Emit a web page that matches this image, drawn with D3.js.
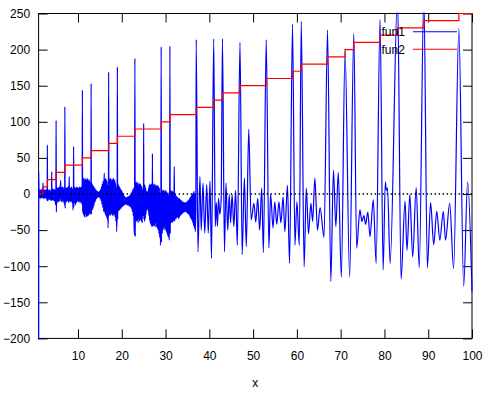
<!DOCTYPE html>
<html>
<head>
<meta charset="utf-8">
<script src="https://cdn.jsdelivr.net/npm/d3@7"></script>
<style>
  body { margin: 0; background: #fff; }
  svg { display: block; font-family: "Liberation Sans", Arial, sans-serif; }
  .tick text { font-size: 12px; fill: #000; }
</style>
</head>
<body>
<svg id="chart" width="491" height="398"></svg>
<script>
// tick values
var xTicks = [10, 20, 30, 40, 50, 60, 70, 80, 90, 100];
var yTicks = [-200, -150, -100, -50, 0, 50, 100, 150, 200, 250];

// fun2: step values (x where it steps, value after the step)
var fun2X = [1, 2, 3, 5, 7, 11, 13, 17, 19, 23, 29, 31, 37, 41, 43, 47, 53, 59, 61, 67, 71, 73, 79, 83, 89, 97, 100];
var fun2Y = [0, 10, 20, 30, 40, 50, 60, 70, 80, 90, 100, 110, 120, 130, 140, 150, 160, 170, 180, 190, 200, 210, 220, 230, 240, 250, 250];

// fun1: values, [x, y]
var fun1 = [
  [1.00,-260],[1.02,30],[1.1,-6],[1.2,6],[1.3,-5],[1.4,5],[1.5,-6],[1.6,6],[1.7,-5],[1.8,6],[1.9,-5],[2.0,15],
  [2.1,-6],[2.2,5],[2.3,-6],[2.4,6],[2.5,-5],[2.6,5],[2.7,-6],[2.8,6],[2.9,-7],[2.96,-9],[3.0,68],[3.05,-10],
  [3.15,5],[3.25,-8],[3.35,5],[3.45,-7],[3.55,6],[3.65,-8],[3.75,4],[3.85,-9],[3.95,-4],[4.0,31],[4.05,-8],
  [4.15,7],[4.25,-8],[4.35,6],[4.45,-9],[4.55,7],[4.65,-10],[4.75,5],[4.85,-15],[4.95,-8],[5.0,102],[5.06,-25],
  [5.15,9],[5.25,-12],[5.35,8],[5.45,-10],[5.55,9],[5.65,-11],[5.75,10],[5.85,-9],[5.95,8],[6.05,19],[6.15,-10],
  [6.25,9],[6.35,-11],[6.45,10],[6.55,-9],[6.65,9],[6.75,-12],[6.85,7],[6.95,-16],[7.0,121],[7.06,-20],
  [7.15,9],[7.25,-10],[7.35,8],[7.45,-11],[7.55,9],[7.65,-9],[7.75,10],[7.85,-12],[7.95,6],[8.0,24],[8.05,-10],
  [8.15,9],[8.25,-11],[8.35,8],[8.45,-10],[8.55,10],[8.65,-12],[8.75,7],[8.85,-22],[8.95,-10],[9.0,66],[9.06,-18],
  [9.15,10],[9.25,-12],[9.35,9],[9.45,-15],[9.55,8],[9.65,-12],[9.75,10],[9.85,-10],[9.95,9],[10.05,-11],
  [10.15,8],[10.25,-10],[10.35,10],[10.45,-12],[10.55,9],[10.65,-11],[10.75,10],[10.85,-14],[10.95,-8],[11.0,144],[11.06,-25],
  [11.12,20],[11.2,-28],[11.28,22],[11.36,-30],[11.44,18],[11.52,-32],[11.6,22],[11.68,-27],[11.76,20],[11.84,-32],
  [11.92,21],[12.0,-30],[12.08,19],[12.16,-31],[12.24,22],[12.32,-28],[12.4,18],[12.48,-30],[12.56,20],[12.64,-26],
  [12.72,17],[12.8,-28],[12.88,12],[12.95,-22],[13.0,153],[13.06,-28],
  [13.15,15],[13.25,-22],[13.35,13],[13.45,-20],[13.55,11],[13.65,-16],[13.75,9],[13.85,-12],[13.95,7],[14.05,-9],
  [14.15,5],[14.25,-6],[14.35,4],[14.45,-5],[14.55,3],[14.65,-4],[14.75,3],[14.85,-4],[14.95,4],[15.05,-6],
  [15.15,6],[15.25,-9],[15.35,10],[15.45,-14],[15.55,14],[15.65,-19],[15.75,18],[15.85,-24],[15.95,12],[16.0,29],[16.06,-25],
  [16.14,20],[16.22,-28],[16.3,22],[16.38,-30],[16.46,20],[16.54,-32],[16.62,18],[16.7,-35],[16.78,12],[16.86,-47],
  [16.94,-20],[17.0,169],[17.06,-30],
  [17.14,22],[17.22,-28],[17.3,20],[17.38,-30],[17.46,22],[17.54,-26],[17.62,18],[17.7,-28],[17.78,21],[17.86,-30],
  [17.94,19],[18.02,-27],[18.1,22],[18.18,-30],[18.26,18],[18.34,-28],[18.42,20],[18.5,-32],[18.58,15],[18.66,-38],
  [18.74,10],[18.82,-52],[18.94,-25],[19.0,176],[19.06,-35],
  [19.14,14],[19.22,-24],[19.3,12],[19.38,-22],[19.46,10],[19.54,-22],[19.62,8],[19.7,-20],[19.78,6],[19.86,-20],
  [19.94,5],[20.02,-18],[20.1,3],[20.2,-17],[20.3,1],[20.4,-16],[20.5,-2],[20.6,-15],[20.7,-4],[20.8,-14],
  [20.9,-5],[21.0,-14],[21.1,-5],[21.2,-15],[21.3,-4],[21.4,-15],[21.5,-4],[21.6,-16],[21.7,-3],[21.8,-17],
  [21.9,-2],[22.0,-18],[22.1,0],[22.2,-20],[22.3,3],[22.4,-24],[22.5,6],[22.6,-30],[22.7,8],[22.8,-40],
  [22.9,-57],[23.0,188],[23.07,-59],
  [23.15,15],[23.23,-35],[23.31,17],[23.39,-38],[23.47,14],[23.55,-36],[23.63,16],[23.71,-40],[23.79,12],[23.87,-34],
  [23.95,15],[24.03,-38],[24.11,13],[24.19,-36],[24.27,14],[24.35,-35],[24.43,12],[24.51,-38],[24.59,10],[24.67,-40],
  [24.75,6],[24.85,-30],[24.95,-15],[25.0,98],[25.06,-35],
  [25.14,14],[25.22,-38],[25.3,12],[25.38,-34],[25.46,8],[25.54,-28],[25.62,4],[25.7,-22],[25.78,2],[25.86,-20],
  [25.94,4],[26.02,-24],[26.1,8],[26.18,-30],[26.26,12],[26.34,-36],[26.42,14],[26.5,-40],[26.58,12],[26.66,-42],
  [26.74,14],[26.82,-45],[26.9,10],[26.96,-30],[27.0,56],[27.06,-45],
  [27.14,14],[27.22,-44],[27.3,12],[27.38,-42],[27.46,14],[27.54,-45],[27.62,10],[27.7,-40],[27.78,13],[27.86,-46],
  [27.94,12],[28.02,-44],[28.1,11],[28.18,-48],[28.26,12],[28.34,-50],[28.42,10],[28.5,-55],[28.58,8],[28.66,-60],
  [28.74,2],[28.82,-71],[28.92,-40],[29.0,204],[29.07,-67],
  [29.15,6],[29.23,-55],[29.31,5],[29.39,-50],[29.47,4],[29.55,-48],[29.63,6],[29.71,-45],[29.79,3],[29.87,-50],
  [29.95,5],[30.03,-48],[30.11,2],[30.19,-52],[30.27,4],[30.35,-55],[30.43,0],[30.51,-58],[30.59,2],[30.67,-60],
  [30.75,-2],[30.83,-64],[30.93,-30],[31.0,205],[31.07,-55],
  [31.15,4],[31.23,-40],[31.31,5],[31.39,-38],[31.47,3],[31.55,-40],[31.63,4],[31.71,-36],[31.79,2],[31.87,-38],
  [31.95,10],[32.0,38],[32.06,-38],[32.14,0],[32.22,-35],[32.3,-2],[32.38,-34],[32.46,-3],[32.54,-33],[32.62,-4],
  [32.7,-32],[32.78,-5],[32.86,-32],[32.94,-6],
  [33.02,-34],[33.1,-6],[33.18,-32],[33.26,-7],[33.34,-30],[33.42,-8],[33.5,-29],[33.58,-9],[33.66,-28],[33.74,-10],
  [33.82,-27],[33.9,-11],[33.98,-26],[34.06,-12],[34.14,-25],[34.22,-12],[34.3,-25],[34.38,-12],[34.46,-24],[34.54,-13],
  [34.62,-24],[34.7,-12],[34.78,-25],[34.86,-11],[34.94,-26],[35.02,-10],[35.1,-27],[35.18,-9],[35.26,-28],[35.34,-8],
  [35.42,-29],[35.5,-6],[35.58,-31],[35.66,-5],[35.74,-33],[35.82,-3],[35.9,-35],[35.98,-2],[36.06,-37],[36.14,0],
  [36.22,-40],[36.3,2],[36.4,-44],[36.5,4],[36.6,-48],[36.7,0],[36.8,-52],[36.92,-20],[37.0,214],
  [37.4,-80],[37.85,24],[38.15,-50],[38.55,15],[38.95,-54],[39.4,13],[39.75,-54],[40.15,18],[40.5,-89],[41.0,215],
  [41.35,-45],[41.6,-12],[41.85,-45],[42.1,-6],[42.4,-28],[42.7,-8],[43.0,215],[43.45,-80],[43.8,15],[44.2,-50],
  [44.55,-1],[44.85,-40],[45.2,-1],[45.6,-45],[46.0,5],[46.4,-71],[47.0,210],[47.5,-84],[48.0,22],[48.45,-73],
  [49.0,90],[49.55,-36],[50.2,-13],[50.6,-39],[51.05,-6],[51.5,-50],[51.96,8],[52.35,-81],[53.0,214],[53.6,-75],
  [54.0,0],[54.55,-47],[54.95,-11],[55.4,-42],[55.9,-11],[56.35,-40],[56.85,-4],[57.25,-52],[57.85,12],[58.33,-96],
  [59.0,235],[59.55,-71],[60.0,-11],[60.55,-71],[61.0,239],
  [61.65,-101],[62.15,8],[62.65,-55],[63.2,-13],[63.6,-38],[64.1,22],[64.7,-50],[65.3,-19],[66.2,-60],[67.0,227],
  [67.75,-121],[68.35,33],[68.9,-45],[69.45,30],[70.15,-115],[71.0,198],[72.05,-115],[73.0,222],
  [73.65,-75],[74.4,-22],[74.85,-38],[75.3,-30],[75.7,-42],[76.2,-25],[76.7,-59],[77.45,-8],[78.1,-96],[79.0,242],
  [79.7,-105],[80.2,17],[80.45,5],[80.7,8],[81.3,-96],[83.0,275],[83.8,-118],[84.7,-10],[85.15,-78],[85.8,-1],
  [86.45,-87],[87.25,9],[87.95,-102],[89.0,275],[89.8,-102],[90.55,-12],[91.25,-70],[91.95,-24],[92.65,-64],[93.45,-24],
  [93.95,-64],[94.9,-13],[95.8,-103],[97.0,229],[98.1,-128],[99.0,17],[100.0,-135]
];

var svg = d3.select("#chart");
var plotLeft = 38.6, plotRight = 472, plotTop = 13.5, plotBottom = 338.4;

var x = d3.scaleLinear().domain([1, 100]).range([plotLeft, plotRight]);
var y = d3.scaleLinear().domain([-200, 250]).range([plotBottom, plotTop]);

// clip a touch wider than the frame so the curve can sit on the border
svg.append("defs").append("clipPath").attr("id", "plotclip")
  .append("rect")
  .attr("x", plotLeft - 1).attr("y", plotTop - 1)
  .attr("width", plotRight - plotLeft + 2).attr("height", plotBottom - plotTop + 2);

// frame (drawn first, the curves go on top like gnuplot)
svg.append("rect")
  .attr("x", plotLeft).attr("y", plotTop)
  .attr("width", plotRight - plotLeft).attr("height", plotBottom - plotTop)
  .attr("fill", "none")
  .attr("stroke", "#000")
  .attr("stroke-width", 1);

// axes, ticks pointing inwards on all four sides
svg.append("g")
  .attr("transform", `translate(0,${plotBottom})`)
  .call(d3.axisBottom(x).tickValues(xTicks).tickSizeInner(-9).tickSizeOuter(0).tickPadding(13).tickFormat(d3.format("d")))
  .call(g => g.select(".domain").remove());
svg.append("g")
  .attr("transform", `translate(0,${plotTop})`)
  .call(d3.axisTop(x).tickValues(xTicks).tickSizeInner(-9).tickSizeOuter(0).tickFormat(""))
  .call(g => g.select(".domain").remove());
svg.append("g")
  .attr("transform", `translate(${plotLeft},0)`)
  .call(d3.axisLeft(y).tickValues(yTicks).tickSizeInner(-9).tickSizeOuter(0).tickPadding(8.5).tickFormat(d3.format("d")))
  .call(g => g.select(".domain").remove());
svg.append("g")
  .attr("transform", `translate(${plotRight},0)`)
  .call(d3.axisRight(y).tickValues(yTicks).tickSizeInner(-9).tickSizeOuter(0).tickFormat(""))
  .call(g => g.select(".domain").remove());

svg.selectAll(".tick line").attr("stroke", "#000");
svg.selectAll(".tick text").attr("font-family", "Liberation Sans, Arial, sans-serif");

var plot = svg.append("g").attr("clip-path", "url(#plotclip)");

// fun1
var line1 = d3.line()
  .x(d => x(d[0]))
  .y(d => y(d[1]))
  .curve(d3.curveMonotoneX);

plot.append("path")
  .datum(fun1)
  .attr("fill", "none")
  .attr("stroke", "#0000ff")
  .attr("stroke-width", 1.2)
  .attr("stroke-linejoin", "round")
  .attr("d", line1);

// zero axis
plot.append("line")
  .attr("x1", plotLeft).attr("x2", plotRight)
  .attr("y1", y(0)).attr("y2", y(0))
  .attr("stroke", "#000")
  .attr("stroke-width", 1.3)
  .attr("stroke-dasharray", "1.5,2.5");

// fun2 (step)
var line2 = d3.line()
  .x((d, i) => x(fun2X[i]))
  .y(d => y(d))
  .curve(d3.curveStepAfter);

plot.append("path")
  .datum(fun2Y)
  .attr("fill", "none")
  .attr("stroke", "#ff0000")
  .attr("stroke-width", 1.2)
  .attr("d", line2);

// x label
svg.append("text")
  .attr("x", (plotLeft + plotRight) / 2)
  .attr("y", 387)
  .attr("text-anchor", "middle")
  .attr("font-size", 12)
  .text("x");

// legend
var legend = [
  { name: "fun1", color: "#0000ff", y: 31.7 },
  { name: "fun2", color: "#ff0000", y: 49.3 }
];
legend.forEach(function (d) {
  svg.append("text")
    .attr("x", 381.5)
    .attr("y", d.y + 4.3)
    .attr("font-size", 12)
    .text(d.name);
  svg.append("line")
    .attr("x1", 413).attr("x2", 457)
    .attr("y1", d.y).attr("y2", d.y)
    .attr("stroke", d.color)
    .attr("stroke-width", 1.1);
});
</script>
</body>
</html>
